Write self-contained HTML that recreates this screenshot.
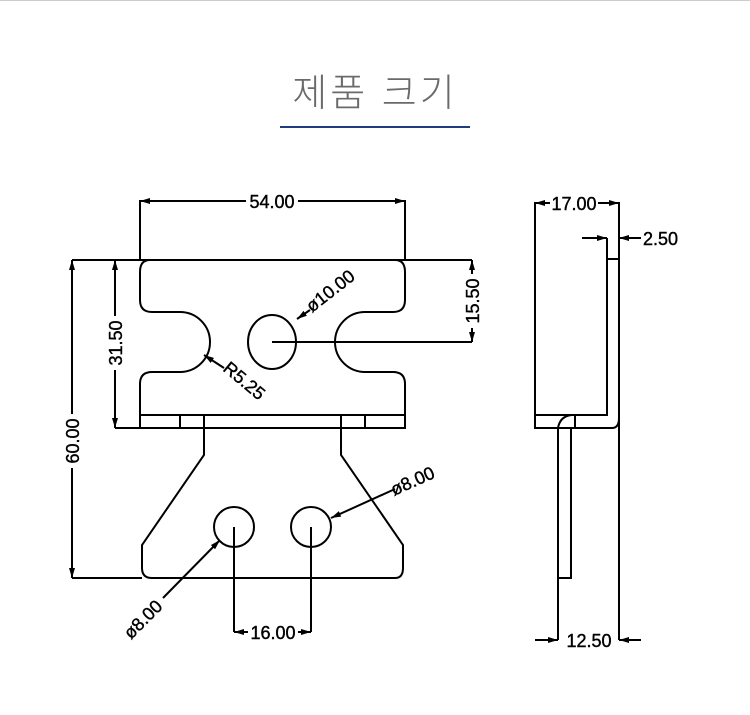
<!DOCTYPE html>
<html><head><meta charset="utf-8"><style>
html,body{margin:0;padding:0;background:#fff;}
body{width:750px;height:715px;overflow:hidden;position:relative;}
.t{position:absolute;top:62px;left:0;width:750px;text-align:center;font-family:"Liberation Sans","Noto Sans CJK KR",sans-serif;font-size:38px;color:#6a6a6a;letter-spacing:3px;font-weight:300}
</style></head><body>
<div style="position:absolute;top:0;left:0;width:750px;height:1px;background:#ccc"></div>
<div class="t">제품 크기</div>
<div style="position:absolute;top:126px;left:280px;width:190px;height:2px;background:#1e3c7e"></div>
<svg width="750" height="715" style="position:absolute;top:0;left:0" fill="none" stroke="#000" stroke-width="2">
<defs><marker id="a" markerWidth="10" markerHeight="6" refX="10" refY="3" orient="auto" markerUnits="userSpaceOnUse"><path d="M0,0L10,3L0,6z" fill="#000" stroke="none"/></marker></defs>
<g>
<!-- 54 dim -->
<path d="M140,260V200M405,260V200"/>
<path d="M246,201H140" marker-end="url(#a)"/><path d="M298,201H405" marker-end="url(#a)"/>
<!-- top line -->
<path d="M72,260H472"/>
<!-- upper plate -->
<path d="M150,260Q140,260 140,272V300Q140,312 152,312H180A30,30 0 0 1 180,372H152Q140,372 140,384V428H405V384Q405,372 393,372H365A30,30 0 0 1 365,312H393Q405,312 405,300V272Q405,260 395,260"/>
<path d="M140,415H405M180,415V428M204,415V428M341,415V428M365,415V428"/>
<ellipse cx="272" cy="342" rx="24" ry="27"/>
<path d="M272,342H472"/>
<path d="M472,274V260" marker-end="url(#a)"/><path d="M472,328V342" marker-end="url(#a)"/>
<path d="M310,310L297,319" marker-end="url(#a)"/>
<path d="M224,368L204,355" marker-end="url(#a)"/>
<!-- lower part -->
<path d="M204,428V455L142,545V568Q142,578 152,578H395Q403,578 403,568V545L341,455V428"/>
<path d="M72,578H142"/>
<circle cx="234" cy="527" r="20"/><circle cx="311" cy="527" r="20"/>
<path d="M234,527V632M311,527V632"/>
<path d="M248,632H234" marker-end="url(#a)"/><path d="M298,632H311" marker-end="url(#a)"/>
<path d="M163,598L220,540" marker-end="url(#a)"/>
<path d="M395,489L331,518" marker-end="url(#a)"/>
<!-- 60 & 31.5 -->
<path d="M72,414V260" marker-end="url(#a)"/><path d="M72,468V578" marker-end="url(#a)"/>
<path d="M115,316V260" marker-end="url(#a)"/><path d="M115,370V428" marker-end="url(#a)"/>
<path d="M115,428H140"/>
<!-- side view -->
<path d="M535,202V428H612Q619,428 619,418"/>
<path d="M619,202V640"/>
<path d="M535,415H607V238"/>
<path d="M607,259H619"/>
<path d="M575,415V428M558,428Q560,416 572,415"/>
<path d="M558,428V640M571,428V578H558"/>
<path d="M550,203H535" marker-end="url(#a)"/><path d="M598,203H619" marker-end="url(#a)"/>
<path d="M582,238H607" marker-end="url(#a)"/><path d="M641,238H619" marker-end="url(#a)"/>
<path d="M535,640H558" marker-end="url(#a)"/><path d="M641,640H619" marker-end="url(#a)"/>
</g>
<g font-family="Liberation Sans, sans-serif" font-size="18" fill="#000" stroke="#000" stroke-width="0.4">
<text x="272" y="208" text-anchor="middle">54.00</text>
<text transform="translate(79,441) rotate(-90)" text-anchor="middle">60.00</text>
<text transform="translate(122,343) rotate(-90)" text-anchor="middle">31.50</text>
<text transform="translate(479,301) rotate(-90)" text-anchor="middle">15.50</text>
<text transform="translate(312,313) rotate(-38)">ø10.00</text>
<text transform="translate(222,370) rotate(40)">R5.25</text>
<text x="273" y="639" text-anchor="middle">16.00</text>
<text transform="translate(131,640) rotate(-45)">ø8.00</text>
<text transform="translate(394,496) rotate(-24)">ø8.00</text>
<text x="574" y="210" text-anchor="middle">17.00</text>
<text x="643" y="245">2.50</text>
<text x="589" y="647" text-anchor="middle">12.50</text>
</g>
</svg>
</body></html>
